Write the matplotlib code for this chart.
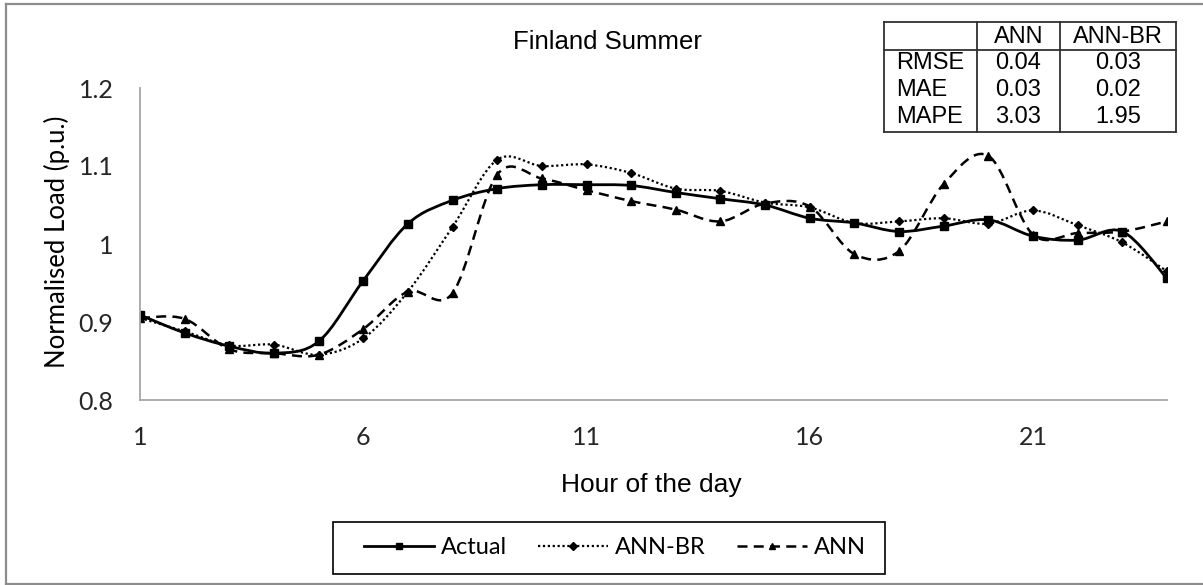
import matplotlib
matplotlib.use("Agg")
import matplotlib.pyplot as plt
from matplotlib.path import Path
from matplotlib.patches import PathPatch, Rectangle
from matplotlib.lines import Line2D
import numpy as np

# ---------------- data ----------------
hours = list(range(1, 25))
actual = [0.909, 0.886, 0.869, 0.860, 0.875, 0.953, 1.026, 1.056, 1.071, 1.076,
          1.076, 1.075, 1.066, 1.058, 1.050, 1.033, 1.027, 1.016, 1.023, 1.031,
          1.010, 1.005, 1.016, 0.956]
ann_br = [0.905, 0.888, 0.870, 0.871, 0.858, 0.879, 0.939, 1.022, 1.108, 1.100,
          1.102, 1.091, 1.071, 1.068, 1.053, 1.047, 1.027, 1.029, 1.033, 1.026,
          1.043, 1.024, 1.002, 0.965]
ann = [0.905, 0.904, 0.865, 0.860, 0.858, 0.891, 0.939, 0.937, 1.089, 1.084,
       1.069, 1.055, 1.044, 1.029, 1.052, 1.048, 0.987, 0.991, 1.077, 1.113,
       1.012, 1.014, 1.016, 1.029]
series_names = ["Actual", "ANN-BR", "ANN"]
x_ticks = [1, 6, 11, 16, 21]
y_ticks = [0.8, 0.9, 1.0, 1.1, 1.2]
y_tick_labels = ["0.8", "0.9", "1", "1.1", "1.2"]
table_cols = ["", "ANN", "ANN-BR"]
table_rows = ["RMSE", "MAE", "MAPE"]
table_ann = ["0.04", "0.03", "3.03"]
table_annbr = ["0.03", "0.02", "1.95"]

W, H = 1203, 585
fig = plt.figure(figsize=(W / 100, H / 100), dpi=100)
fig.patch.set_facecolor("white")

def fx(x):
    return x / W

def fy(y):
    return 1 - y / H

ax = fig.add_axes([fx(140), fy(400), fx(1167) - fx(140), fy(88) - fy(400)])
ax.set_xlim(1, 24)
ax.set_ylim(0.8, 1.2)
for s in ["top", "right"]:
    ax.spines[s].set_visible(False)
for s in ["left", "bottom"]:
    ax.spines[s].set_color("#a6a6a6")
    ax.spines[s].set_linewidth(1.3)
ax.set_xticks(x_ticks)
ax.set_yticks(y_ticks)
ax.set_yticklabels(y_tick_labels)
ax.tick_params(length=0, labelsize=18, colors="#262626")
ax.tick_params(axis="x", pad=19)
ax.tick_params(axis="y", pad=19)
for lab in ax.get_xticklabels() + ax.get_yticklabels():
    lab.set_fontfamily("Lato")


def smooth_path(xs, ys):
    xs = np.asarray(xs, float)
    ys = np.asarray(ys, float)
    n = len(xs)
    verts = [(xs[0], ys[0])]
    codes = [Path.MOVETO]
    for i in range(n - 1):
        p0 = np.array([xs[max(i - 1, 0)], ys[max(i - 1, 0)]])
        p1 = np.array([xs[i], ys[i]])
        p2 = np.array([xs[i + 1], ys[i + 1]])
        p3 = np.array([xs[min(i + 2, n - 1)], ys[min(i + 2, n - 1)]])
        c1 = p1 + (p2 - p0) / 6.0
        c2 = p2 - (p3 - p1) / 6.0
        verts += [tuple(c1), tuple(c2), tuple(p2)]
        codes += [Path.CURVE4] * 3
    return Path(verts, codes)


styles = [
    dict(data=actual, lw=2.0, marker="s", ms=6, dashes=None),
    dict(data=ann_br, lw=1.6, marker="D", ms=4.5, dashes=(1, 1.2)),
    dict(data=ann, lw=1.8, marker="^", ms=6, dashes=(4, 2.5)),
]
handles = []
for name, st in zip(series_names, styles):
    patch = PathPatch(smooth_path(hours, st["data"]), facecolor="none",
                      edgecolor="black", lw=st["lw"], capstyle="butt")
    if st["dashes"] is not None:
        patch.set_linestyle((0, st["dashes"]))
    ax.add_patch(patch)
    ax.plot(hours, st["data"], linestyle="none", marker=st["marker"],
            ms=st["ms"], color="black")
    h = Line2D([0, 1, 2], [0, 0, 0], color="black", lw=st["lw"],
               marker=st["marker"], ms=st["ms"] * 0.8, markevery=[1])
    if st["dashes"] is not None:
        h.set_dashes(st["dashes"])
    handles.append(h)

# legend box (drawn separately) and entries
fig.add_artist(Rectangle((fx(333), fy(574)), fx(885) - fx(333), fy(522) - fy(574),
                         transform=fig.transFigure, facecolor="white",
                         edgecolor="black", lw=1.2))
fs_leg = 17
px = fs_leg * 100 / 72
leg = fig.legend(handles, series_names, loc="center left",
                 bbox_to_anchor=(fx(364), fy(548)), ncol=3, frameon=False,
                 handlelength=70 / px, columnspacing=31 / px,
                 handletextpad=7 / px, borderpad=0, borderaxespad=0,
                 prop={"family": "Lato", "size": fs_leg})

# titles and labels
fig.text(fx(607), fy(42), "Finland Summer", ha="center", va="center",
         family="Liberation Sans", fontsize=18.5)
fig.text(fx(651), fy(485), "Hour of the day", ha="center", va="center",
         family="Liberation Sans", fontsize=19)
fig.text(fx(57), fy(242), "Normalised Load (p.u.)", ha="center", va="center",
         rotation=90, family="Lato", fontsize=18.5)

# table
tx = [884, 977, 1060, 1176]
ty_top, ty_head, ty_bot = 22, 50, 132
lc = "#303030"
def fline(x0, y0, x1, y1, lw=1.3, color=lc):
    fig.add_artist(Line2D([fx(x0), fx(x1)], [fy(y0), fy(y1)], color=color,
                          lw=lw, transform=fig.transFigure))
fline(tx[0], ty_top, tx[3], ty_top)
fline(tx[0], ty_head, tx[3], ty_head)
fline(tx[0], ty_bot, tx[3], ty_bot)
for xv in tx:
    fline(xv, ty_top, xv, ty_bot)
tfont = dict(family="Liberation Sans", fontsize=17, va="center")
for j, c in enumerate(table_cols):
    if c:
        fig.text(fx((tx[j] + tx[j + 1]) / 2), fy(37), c, ha="center", **tfont)
row_y = [63, 90, 117]
for r, yv in enumerate(row_y):
    fig.text(fx(896), fy(yv), table_rows[r], ha="left", **tfont)
    fig.text(fx((tx[1] + tx[2]) / 2), fy(yv), table_ann[r], ha="center", **tfont)
    fig.text(fx((tx[2] + tx[3]) / 2), fy(yv), table_annbr[r], ha="center", **tfont)

# outer border
bc = "#8c8c8c"
fline(6, 4, 1203, 4, lw=1.6, color=bc)
fline(6, 4, 6, 584, lw=1.6, color=bc)
fline(6, 584, 1203, 584, lw=1.6, color=bc)

fig.savefig("out.png", dpi=100, facecolor="white")
